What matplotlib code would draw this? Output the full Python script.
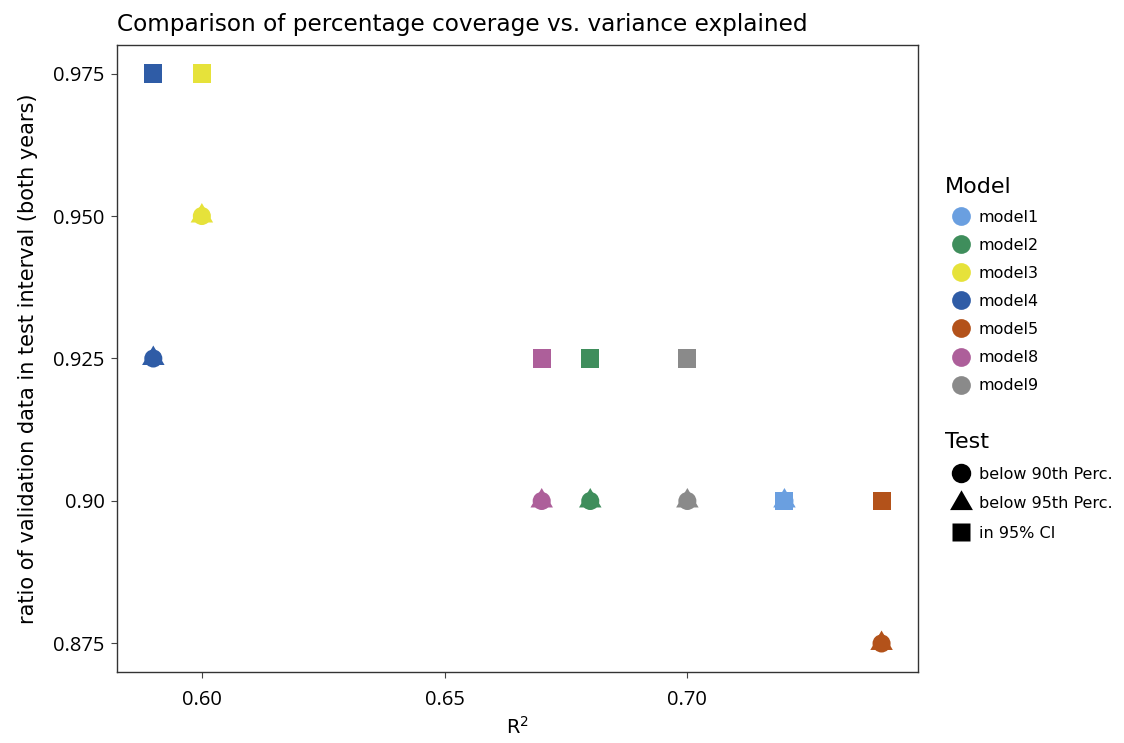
import matplotlib
matplotlib.use("Agg")
import matplotlib.pyplot as plt
from matplotlib.lines import Line2D

plt.rcParams['font.family'] = ['DejaVu Sans']

models = ["model1", "model2", "model3", "model4", "model5", "model8", "model9"]
colors = ["#6a9fe0", "#3f8e5c", "#e6e23a", "#2f5ca6", "#b3521a", "#ad5f9a", "#8a8a8a"]
tests = ["below 90th Perc.", "below 95th Perc.", "in 95% CI"]

# R^2 per model
r2 = [0.72, 0.68, 0.60, 0.59, 0.74, 0.67, 0.70]
# ratio values per model for each test
below90 = [0.90, 0.90, 0.95, 0.925, 0.875, 0.90, 0.90]
below95 = [0.90, 0.90, 0.95, 0.925, 0.875, 0.90, 0.90]
ci95 = [0.90, 0.925, 0.975, 0.975, 0.90, 0.925, 0.925]

yticks = [0.875, 0.90, 0.925, 0.950, 0.975]
ytick_labels = ["0.875", "0.90", "0.925", "0.950", "0.975"]
xticks = [0.60, 0.65, 0.70]
xtick_labels = ["0.60", "0.65", "0.70"]

# equilateral triangle centred on its centroid (ggplot style)
tri = [(0, 1.1547), (-1, -0.57735), (1, -0.57735)]
markers = ["o", tri, "s"]
sizes = [169, 350, 169]

fig = plt.figure(figsize=(11.24, 7.43), dpi=100)
ax = fig.add_axes([0.104, 0.0956, 0.7127, 0.8438])

for vals, mk, sz in zip([below90, below95, ci95], markers, sizes):
    for x, y, c in zip(r2, vals, colors):
        ax.scatter(x, y, marker=mk, s=sz, color=c, edgecolors='none', zorder=3)

ax.set_xlim(0.5825, 0.7475)
ax.set_ylim(0.87, 0.98)
ax.set_xticks(xticks)
ax.set_xticklabels(xtick_labels)
ax.set_yticks(yticks)
ax.set_yticklabels(ytick_labels)
ax.tick_params(labelsize=14.5, length=4, color='#444444', labelcolor='black')
ax.tick_params(axis='x', pad=9)
ax.tick_params(axis='y', pad=5)
for lab in ax.get_xticklabels() + ax.get_yticklabels():
    lab.set_fontfamily(['Open Sans', 'DejaVu Sans'])
for s in ax.spines.values():
    s.set_color('#333333')
    s.set_linewidth(1.0)

ax.set_xlabel("R$^2$", fontsize=14, labelpad=4)
ax.set_ylabel("ratio of validation data in test interval (both years)", fontsize=15, labelpad=11)
ax.set_title("Comparison of percentage coverage vs. variance explained", fontsize=16.7, loc='left', pad=10)

model_handles = [Line2D([], [], marker='o', linestyle='none', markersize=13.5,
                        markerfacecolor=c, markeredgecolor='none') for c in colors]
leg1 = fig.legend(model_handles, models, title="Model", loc='upper left',
                  bbox_to_anchor=(0.8347, 0.771), frameon=False, fontsize=11.5,
                  title_fontsize=16, handletextpad=0.05, labelspacing=0.82,
                  handlelength=2.1, borderaxespad=0)
leg1._legend_box.align = "left"

test_handles = [Line2D([], [], marker=m, linestyle='none', markersize=ms,
                       markerfacecolor='black', markeredgecolor='none')
                for m, ms in zip(markers, [14, 19, 13])]
leg2 = fig.legend(test_handles, tests, title="Test", loc='upper left',
                  bbox_to_anchor=(0.8347, 0.4265), frameon=False, fontsize=11.5,
                  title_fontsize=16, handletextpad=0.05, labelspacing=0.9,
                  handlelength=2.1, borderaxespad=0)
leg2._legend_box.align = "left"

fig.savefig("out.png", dpi=100)
